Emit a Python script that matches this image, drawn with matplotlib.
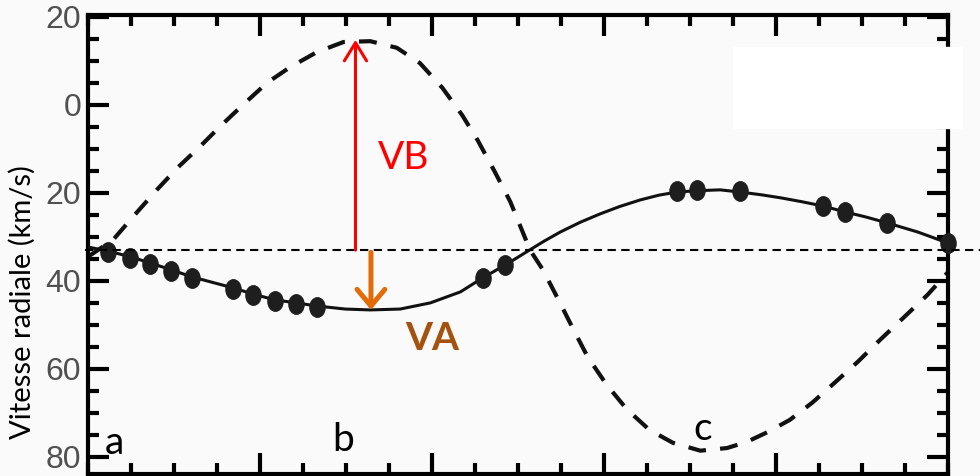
import matplotlib.pyplot as plt
from matplotlib.markers import MarkerStyle
from matplotlib.transforms import Affine2D
from matplotlib.patches import Rectangle

# star A: fitted curve (solid) and measured points
phase_a = [0.000, 0.023, 0.049, 0.072, 0.097, 0.121, 0.169, 0.192, 0.217, 0.242,
           0.266, 0.299, 0.328, 0.363, 0.398, 0.433, 0.459, 0.485, 0.510, 0.530,
           0.549, 0.572, 0.595, 0.618, 0.642, 0.664, 0.685, 0.708, 0.735, 0.758,
           0.782, 0.805, 0.830, 0.855, 0.880, 0.905, 0.929, 0.965, 1.000]
vel_a = [-32.3, -33.2, -34.5, -35.9, -37.5, -39.1, -41.6, -43.0, -44.3, -45.0,
         -45.7, -46.4, -46.6, -46.4, -45.0, -42.5, -39.3, -36.4, -33.4, -31.0,
         -28.9, -26.7, -24.8, -23.1, -21.6, -20.5, -19.8, -19.5, -19.3, -19.8,
         -20.4, -21.1, -22.0, -23.0, -24.3, -25.5, -26.8, -28.9, -31.4]
dot_phase = [0.023, 0.049, 0.072, 0.097, 0.121, 0.169, 0.192, 0.217, 0.242, 0.266,
             0.459, 0.485, 0.685, 0.708, 0.758, 0.855, 0.880, 0.929, 1.000]
dot_vel = [-33.4, -34.8, -36.1, -37.7, -39.3, -41.8, -43.2, -44.5, -45.2, -45.9,
           -39.3, -36.4, -19.5, -19.3, -19.5, -23.0, -24.3, -26.8, -31.4]

# star B: fitted curve (dashed)
phase_b = [0.000, 0.029, 0.052, 0.080, 0.105, 0.130, 0.153, 0.180, 0.208, 0.235,
           0.266, 0.297, 0.328, 0.359, 0.386, 0.412, 0.435, 0.453, 0.473, 0.491,
           0.514, 0.529, 0.547, 0.563, 0.581, 0.603, 0.627, 0.653, 0.680, 0.712,
           0.743, 0.766, 0.791, 0.816, 0.842, 0.869, 0.895, 0.921, 0.948, 0.976, 1.000]
vel_b = [-34.5, -30.7, -25.5, -19.3, -14.1, -9.5, -5.0, 0.0, 5.0, 8.6,
         12.0, 14.3, 14.5, 13.0, 9.5, 3.9, -2.3, -8.0, -15.2, -22.0,
         -33.0, -37.5, -44.3, -50.5, -57.3, -63.6, -69.3, -73.9, -76.8, -78.6,
         -78.0, -76.6, -74.3, -71.6, -67.7, -63.0, -58.4, -53.4, -48.4, -43.2, -38.0]

gamma = -33.0
vb_phase, vb_top = 0.311, 14.8
va_phase, va_bottom = 0.329, -46.6

yticks = [20, 0, -20, -40, -60, -80]
ytick_labels = ["20", "0", "20", "40", "60", "80"]

bg = "#fafafa"
fig = plt.figure(figsize=(9.8, 4.76), dpi=100, facecolor=bg)
ax = fig.add_axes([0.0898, 0.0042, 0.8776, 0.9643], facecolor=bg)

ax.plot(phase_b, vel_b, color="#111111", lw=3, ls=(0, (4.3, 3.4)), zorder=2)
ax.plot(phase_a, vel_a, color="#111111", lw=2.2, zorder=3)
oval = MarkerStyle("o", transform=Affine2D().scale(0.78, 1.0))
ax.plot(dot_phase, dot_vel, ls="none", marker=oval, ms=14, color="#1e1e1e",
        clip_on=False, zorder=4)

# systemic velocity line, runs past the right frame
ax.axhline(gamma, xmin=-0.004, xmax=1.04, color="black", lw=1.5,
           ls=(0, (4, 2.6)), clip_on=False, zorder=5)

ax.annotate("", xy=(vb_phase, vb_top), xytext=(vb_phase, gamma),
            arrowprops=dict(arrowstyle="->,head_length=0.65,head_width=0.4",
                            mutation_scale=20, color="#ff0000", lw=2.2,
                            shrinkA=0, shrinkB=0), zorder=6)
ax.annotate("", xy=(va_phase, va_bottom), xytext=(va_phase, gamma - 0.5),
            arrowprops=dict(arrowstyle="->,head_length=0.6,head_width=0.5",
                            mutation_scale=20, color="#e36c09", lw=3.6,
                            shrinkA=0, shrinkB=0), zorder=6)

ax.text(0.367, -12.0, "VB", color="#ff0000", fontsize=28, family="Lato",
        ha="center", va="center")
ax.text(0.400, -53.0, "VA", color="#a5520f", fontsize=28, family="Lato",
        fontweight="bold", ha="center", va="center")
for lab, px, py in [("a", 0.031, -76.8), ("b", 0.297, -76.1), ("c", 0.715, -73.6)]:
    ax.text(px, py, lab, fontsize=28, family="Lato", ha="center", va="center")

ax.set_xlim(0, 1)
ax.set_ylim(-83.9, 20.45)
ax.set_xticks([0.2, 0.4, 0.6, 0.8])
ax.set_xticks([i * 0.05 for i in range(21)], minor=True)
ax.set_yticks(yticks)
ax.set_yticklabels(ytick_labels)
ax.set_yticks(range(-80, 21, 5), minor=True)
ax.tick_params(which="both", direction="in", top=True, right=True, width=3,
               labelbottom=False, labelsize=23, labelcolor="#505050", pad=5)
ax.tick_params(which="major", length=15)
ax.tick_params(which="minor", length=8)
for lab in ax.get_yticklabels():
    lab.set_family(["Liberation Sans Narrow", "Liberation Sans"])
for s in ax.spines.values():
    s.set_linewidth(3)

fig.text(22 / 980, 1 - 302 / 476, "Vitesse radiale (km/s)", rotation=90,
         fontsize=21, family="Lato", ha="center", va="center")

# blank panel in the upper right corner
fig.patches.append(Rectangle((733 / 980, 1 - 128 / 476), 229 / 980, 81 / 476,
                             transform=fig.transFigure, color="white", zorder=10))

fig.savefig("out.png", dpi=100, facecolor=bg)
